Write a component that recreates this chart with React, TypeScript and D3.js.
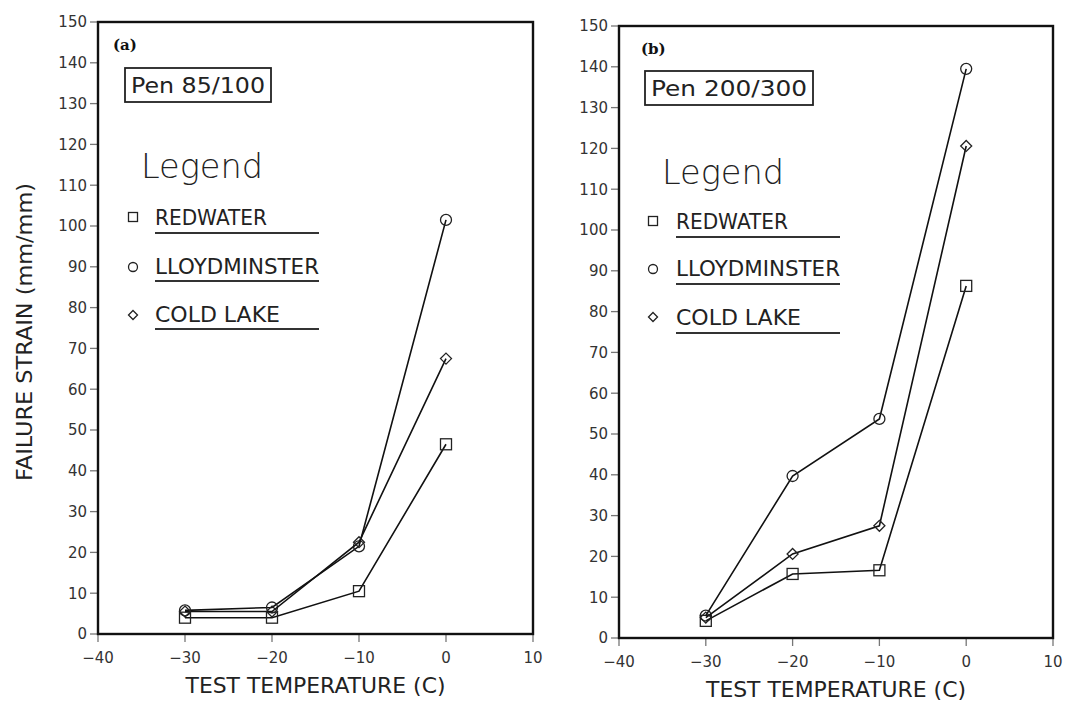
import React from "react";
import * as d3 from "d3";

const temperatures = [-30, -20, -10, 0];
const seriesNames = ["REDWATER", "LLOYDMINSTER", "COLD LAKE"];
const markerKinds = ["square", "circle", "diamond"];

const pen85Redwater = [4, 4, 10.5, 46.5];
const pen85Lloydminster = [5.8, 6.5, 21.5, 101.5];
const pen85ColdLake = [5.5, 5.5, 22.5, 67.5];

const pen200Redwater = [4.2, 15.7, 16.6, 86.3];
const pen200Lloydminster = [5.5, 39.7, 53.7, 139.5];
const pen200ColdLake = [5, 20.6, 27.5, 120.6];

const xTicks = [-40, -30, -20, -10, 0, 10];
const yTicks = [0, 10, 20, 30, 40, 50, 60, 70, 80, 90, 100, 110, 120, 130, 140, 150];

const FONT = "'DejaVu Sans', 'Noto Sans', sans-serif";

type Layout = {
  left: number; right: number; top: number; bottom: number;
  tag: string; pen: string;
  penBox: [number, number, number, number];
  tagPos: [number, number];
  legendX: number; legendY: number;
  markerX: number; textX: number;
  rows: { base: number; marker: number; ul: number; width: number }[];
  ulEnd: number;
  xLabelY: number;
  series: number[][];
};

function Marker({ kind, x, y, s }: { kind: string; x: number; y: number; s: number }) {
  if (kind === "square")
    return <rect x={x - s} y={y - s} width={2 * s} height={2 * s} fill="none" stroke="#222" strokeWidth={1.3} />;
  if (kind === "circle")
    return <circle cx={x} cy={y} r={s} fill="none" stroke="#222" strokeWidth={1.3} />;
  return (
    <path d={`M${x},${y - s}L${x + s},${y}L${x},${y + s}L${x - s},${y}Z`} fill="none" stroke="#222" strokeWidth={1.3} />
  );
}

function Panel({ L }: { L: Layout }) {
  const x = d3.scaleLinear().domain([-40, 10]).range([L.left, L.right]);
  const y = d3.scaleLinear().domain([0, 150]).range([L.bottom, L.top]);
  const line = d3.line<number>().x((_, i) => x(temperatures[i])).y((v) => y(v));
  return (
    <g>
      {yTicks.map((t) => (
        <g key={"y" + t}>
          <line x1={L.left - 8} x2={L.left} y1={y(t)} y2={y(t)} stroke="#777" strokeWidth={1.3} />
          <text x={L.left - 11} y={y(t)} dy="0.36em" textAnchor="end" fontFamily={FONT} fontSize={15} fill="#333">
            {t}
          </text>
        </g>
      ))}
      {xTicks.map((t) => (
        <g key={"x" + t}>
          <line x1={x(t)} x2={x(t)} y1={L.bottom} y2={L.bottom + 8} stroke="#777" strokeWidth={1.3} />
          <text x={x(t)} y={L.bottom + 29} textAnchor="middle" fontFamily={FONT} fontSize={15} fill="#333">
            {t < 0 ? "\u2212" + Math.abs(t) : t}
          </text>
        </g>
      ))}
      <rect x={L.left} y={L.top} width={L.right - L.left} height={L.bottom - L.top} fill="none" stroke="#111" strokeWidth={2.4} />
      {L.series.map((vals, si) => (
        <g key={"s" + si}>
          <path d={line(vals) || ""} fill="none" stroke="#111" strokeWidth={1.6} />
          {vals.map((v, i) => (
            <Marker key={i} kind={markerKinds[si]} x={x(temperatures[i])} y={y(v)} s={5.5} />
          ))}
        </g>
      ))}
      <text x={L.tagPos[0]} y={L.tagPos[1]} fontFamily="'DejaVu Serif', serif" fontWeight="bold" fontSize={15} fill="#111">
        {L.tag}
      </text>
      <rect x={L.penBox[0]} y={L.penBox[1]} width={L.penBox[2]} height={L.penBox[3]} fill="none" stroke="#222" strokeWidth={1.8} />
      <text
        x={L.penBox[0] + 6}
        y={L.penBox[1] + L.penBox[3] / 2}
        dy="0.36em"
        fontFamily={FONT}
        fontSize={21}
        fill="#222"
        textLength={L.penBox[2] - 12}
        lengthAdjust="spacingAndGlyphs"
      >
        {L.pen}
      </text>
      <text x={L.legendX} y={L.legendY} fontFamily={FONT} fontWeight={300} fontSize={34} fill="#222" textLength={122} lengthAdjust="spacingAndGlyphs">
        Legend
      </text>
      {L.rows.map((r, i) => (
        <g key={"l" + i}>
          <Marker kind={markerKinds[i]} x={L.markerX} y={r.marker} s={4.5} />
          <text x={L.textX} y={r.base} fontFamily={FONT} fontSize={21} fill="#222" textLength={r.width} lengthAdjust="spacingAndGlyphs">
            {seriesNames[i]}
          </text>
          <line x1={L.textX} x2={L.ulEnd} y1={r.ul} y2={r.ul} stroke="#333" strokeWidth={2} />
        </g>
      ))}
      <text
        x={(x(-30) + x(0)) / 2}
        y={L.xLabelY}
        textAnchor="middle"
        fontFamily={FONT}
        fontSize={21}
        fill="#222"
        textLength={260}
        lengthAdjust="spacingAndGlyphs"
      >
        TEST TEMPERATURE (C)
      </text>
    </g>
  );
}

const leftLayout: Layout = {
  left: 98, right: 533, top: 22, bottom: 634,
  tag: "(a)", pen: "Pen 85/100",
  penBox: [125, 68, 146, 34],
  tagPos: [113, 50],
  legendX: 141, legendY: 178,
  markerX: 133, textX: 155,
  rows: [
    { base: 225, marker: 217, ul: 233, width: 112 },
    { base: 274, marker: 267, ul: 281, width: 164 },
    { base: 322, marker: 315, ul: 329, width: 125 },
  ],
  ulEnd: 319,
  xLabelY: 693,
  series: [pen85Redwater, pen85Lloydminster, pen85ColdLake],
};

const rightLayout: Layout = {
  left: 619, right: 1053, top: 26, bottom: 638,
  tag: "(b)", pen: "Pen 200/300",
  penBox: [645, 71, 168, 34],
  tagPos: [641, 54],
  legendX: 662, legendY: 184,
  markerX: 653, textX: 676,
  rows: [
    { base: 229, marker: 221, ul: 237, width: 112 },
    { base: 276, marker: 269, ul: 284, width: 164 },
    { base: 325, marker: 317, ul: 333, width: 125 },
  ],
  ulEnd: 840,
  xLabelY: 697,
  series: [pen200Redwater, pen200Lloydminster, pen200ColdLake],
};

export default function App() {
  return (
    <svg width={1069} height={708} style={{ position: "absolute", left: 0, top: 0, background: "#fff" }}>
      <rect x={0} y={0} width={1069} height={708} fill="#fff" />
      <Panel L={leftLayout} />
      <Panel L={rightLayout} />
      <text
        transform="translate(32,332) rotate(-90)"
        textAnchor="middle"
        fontFamily={FONT}
        fontSize={21}
        fill="#222"
        textLength={298}
        lengthAdjust="spacingAndGlyphs"
      >
        FAILURE STRAIN (mm/mm)
      </text>
    </svg>
  );
}
